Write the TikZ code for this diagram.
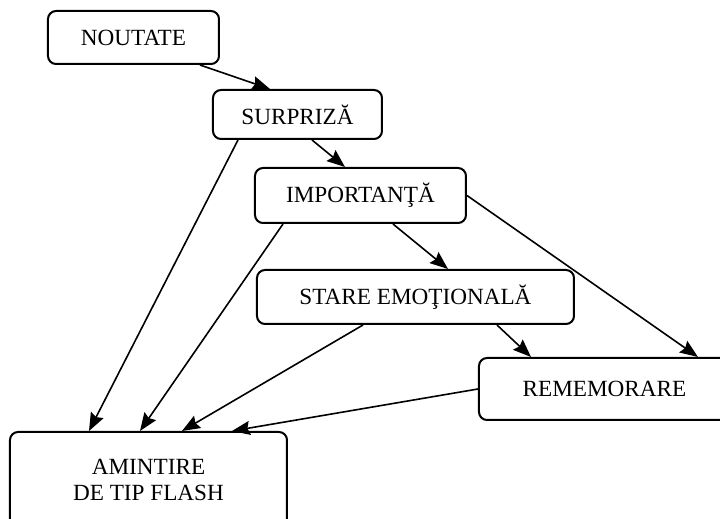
\documentclass[tikz,border=0pt]{standalone}
\usepackage{fontspec}
\setmainfont{Liberation Serif}
\usetikzlibrary{arrows.meta,positioning}

\begin{document}
\begin{tikzpicture}[x=0.5pt, y=-0.5pt, line width=0.8pt]
	\tikzstyle{every node}=[font=\fontsize{11.6}{13}\selectfont]
	\tikzstyle{box}=[draw=black,line width=1pt,rounded corners=4pt,fill=white,align=center,inner sep=0pt]
	\tikzstyle{arr}=[draw,-{Stealth[length=9pt,width=7pt,inset=1.2pt]}]
	\clip (0,0) rectangle (720,519);
	\node[box,minimum width=85.5pt,minimum height=26.5pt]   (noutate)  at (133.5,37.5)  {NOUTATE};
	\node[box,minimum width=84.5pt,minimum height=24.5pt]   (surpriza) at (297.5,114.5) {SURPRIZĂ};
	\node[box,minimum width=105.5pt,minimum height=27.5pt]  (import)   at (360.5,195.5) {IMPORTANŢĂ};
	\node[box,minimum width=158.5pt,minimum height=27pt]    (stare)    at (415.5,297)   {STARE EMOŢIONALĂ};
	\node[box,minimum width=125.5pt,minimum height=31pt]    (rememor)  at (604.5,389)   {REMEMORARE};
	\node[box,minimum width=138.5pt,minimum height=47.5pt]  (amintire) at (148.5,479.5) {AMINTIRE\\DE TIP FLASH};
	\path
	([xshift=33.25pt]noutate.south)   edge[arr] ([xshift=-13.75pt]surpriza.north)
	([xshift=7.25pt]surpriza.south)   edge[arr] ([xshift=-7.75pt]import.north)
	([xshift=-29.75pt]surpriza.south) edge[arr] ([xshift=-29.75pt]amintire.north)
	([xshift=-38.75pt]import.south)   edge[arr] ([xshift=-4.25pt]amintire.north)
	([xshift=16.25pt]import.south)    edge[arr] ([xshift=16.25pt]stare.north)
	(import.east)                     edge[arr] ([xshift=46.75pt]rememor.north)
	([xshift=-26.25pt]stare.south)    edge[arr] ([xshift=16.75pt]amintire.north)
	([xshift=40.75pt]stare.south)     edge[arr] ([xshift=-36.75pt]rememor.north)
	(rememor.west)                    edge[arr] ([xshift=41.75pt]amintire.north);
\end{tikzpicture}
\end{document}
